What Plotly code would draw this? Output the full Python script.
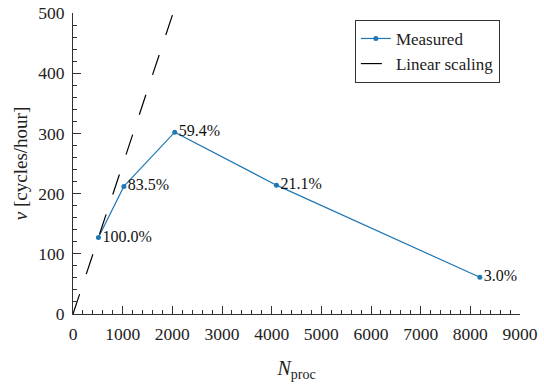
import plotly.graph_objects as go

n_proc = [512, 1024, 2048, 4096, 8192]
rate = [127, 212, 302, 214, 61]
efficiency = ["100.0%", "83.5%", "59.4%", "21.1%", "3.0%"]
linear_x = [0, 2100]

base_n, base_r = n_proc[0], rate[0]
linear_y = [x * base_r / base_n for x in linear_x]

font = "Liberation Serif"
blue = "#1f77b4"

fig = go.Figure()
fig.add_trace(go.Scatter(
    x=n_proc, y=rate, mode="lines+markers", name="Measured",
    line=dict(color=blue, width=1.2), marker=dict(size=5, color=blue),
))
fig.add_trace(go.Scatter(
    x=linear_x, y=linear_y, mode="lines", name="Linear scaling",
    line=dict(color="black", width=1.2, dash="21px,21px"),
))
fig.add_trace(go.Scatter(
    x=n_proc, y=rate, mode="text", text=[" " + t for t in efficiency],
    textposition="middle right", textfont=dict(family=font, size=16, color="#111"),
    showlegend=False, hoverinfo="skip",
))

axis_common = dict(
    showgrid=False, zeroline=False, showline=True, linecolor="#333", linewidth=1.2,
    ticks="inside", ticklen=8, tickcolor="#333", tickwidth=1.2, automargin=False,
    tickfont=dict(family=font, size=17.5, color="#222"), ticklabelstandoff=4,
)

fig.update_layout(
    width=544, height=387,
    margin=dict(l=73, r=24, t=13, b=73, autoexpand=False),
    plot_bgcolor="white", paper_bgcolor="white",
    font=dict(family=font, color="#222", size=17),
    showlegend=True,
    legend=dict(
        x=0.955, y=0.977, xanchor="right", yanchor="top",
        bordercolor="#333", borderwidth=1, bgcolor="white",
        font=dict(family=font, size=17, color="#222"),
        tracegroupgap=0, itemwidth=30,
    ),
    xaxis=dict(
        range=[0, 9000], dtick=1000, **axis_common,
        minor=dict(dtick=200, ticks="inside", ticklen=4, tickcolor="#333", tickwidth=1),
        title=dict(text="<i>N</i><sub>proc</sub>", font=dict(family=font, size=20, color="#222"), standoff=17),
    ),
    yaxis=dict(
        range=[0, 500], dtick=100, **axis_common,
        minor=dict(dtick=20, ticks="inside", ticklen=4, tickcolor="#333", tickwidth=1),
        title=dict(text="<i>ν</i> [cycles/hour]", font=dict(family=font, size=19, color="#222"), standoff=5),
    ),
)

fig.write_html("out.html", config={"displayModeBar": False},
               post_script="document.body.style.margin='0';")
